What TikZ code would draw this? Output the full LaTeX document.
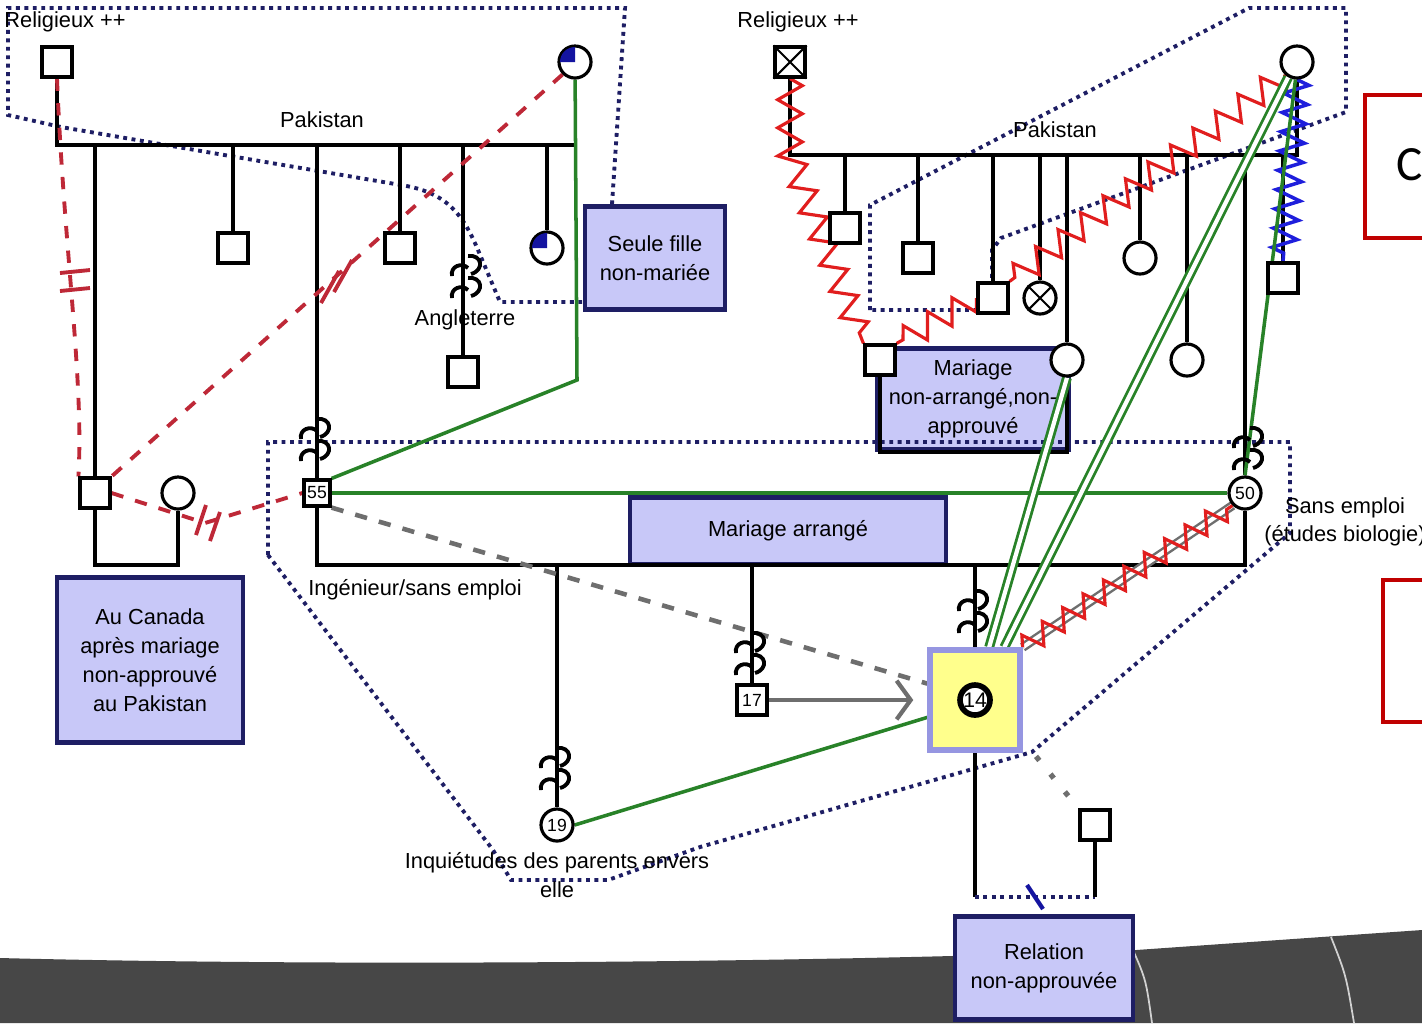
\documentclass[tikz,border=0pt]{standalone}
\usepackage{fontspec}
\setmainfont{Liberation Sans}
\newfontfamily\carlito{Carlito}
\usepackage{xcolor}
\usepackage{tikz}
\usetikzlibrary{calc, shapes, backgrounds, arrows, arrows.meta, positioning, decorations.pathmorphing}

\definecolor{marine}{RGB}{30,30,100}
\definecolor{lavande}{RGB}{200,200,248}
\definecolor{vert}{RGB}{40,130,40}
\definecolor{rouge}{RGB}{225,30,30}
\definecolor{bordeaux}{RGB}{190,40,55}
\definecolor{bleuvif}{RGB}{30,30,220}
\definecolor{bleufonce}{RGB}{20,20,160}
\definecolor{gris}{RGB}{110,110,110}
\definecolor{jaune}{RGB}{255,255,140}
\definecolor{bordind}{RGB}{150,150,225}
\definecolor{bande}{RGB}{71,71,71}
\definecolor{cadre}{RGB}{192,0,0}

\tikzset{immig/.pic={
\draw[line width=1.1pt] (-16,-4) .. controls (-18,-14) and (-6,-18) .. (0,-12) (0,-24) .. controls (14,-26) and (17,-10) .. (3,-6)
 (-16,18) .. controls (-18,8) and (-6,4) .. (0,10) (0,-2) .. controls (14,-4) and (17,12) .. (3,16);
}}

\begin{document}
\begin{tikzpicture}[x=0.01cm, y=-0.01cm,
 homme/.style={draw, fill=white, line width=0.9pt, minimum size=0.3cm, inner sep=0pt, font=\fontsize{5}{5}\selectfont},
 femme/.style={circle, draw, fill=white, line width=0.9pt, minimum size=0.32cm, inner sep=0pt, font=\fontsize{5}{5}\selectfont},
 note/.style={draw=marine, fill=lavande, line width=1.3pt, align=center, font=\fontsize{6.2}{8.2}\selectfont},
 lbl/.style={font=\fontsize{6.2}{8}\selectfont, align=center, inner sep=1pt},
 lien/.style={line width=0.9pt},
 zone/.style={marine, line width=1.1pt, dash pattern=on 1.1pt off 1.3pt},
 coupe/.style={bordeaux, line width=1.1pt, dash pattern=on 3.5pt off 3.5pt},
 proche/.style={vert, line width=1pt},
 fusion/.style={vert, line width=0.8pt, double=white, double distance=1.2pt},
 conflit/.style={draw=rouge, line width=0.9pt, decorate, decoration={zigzag, segment length=8pt, amplitude=3.5pt}}]
\useasboundingbox (0,0) rectangle (1422,1023);

\node[homme] (lpere) at (57,62) {};
\node[femme] (lmere) at (575,62) {};
\node[homme] (canada) at (95,493) {};
\node[femme] (epouse) at (178,493) {};
\node[homme] (lf2) at (233,248) {};
\node[homme, minimum size=0.26cm] (p55) at (317,493) {55};
\node[homme] (lf4) at (400,248) {};
\node[homme] (lf5) at (463,372) {};
\node[femme] (lf6) at (547,248) {};
\fill[bleufonce] (lmere.center) -- ++(-0.15cm,0) arc[start angle=180, end angle=90, radius=0.15cm] -- cycle;
\fill[bleufonce] (lf6.center) -- ++(-0.15cm,0) arc[start angle=180, end angle=90, radius=0.15cm] -- cycle;

\node[homme] (rpere) at (790,62) {};
\draw[line width=0.6pt] (rpere.north west) -- (rpere.south east) (rpere.north east) -- (rpere.south west);
\node[femme] (rmere) at (1297,62) {};
\node[homme] (rf1) at (845,228) {};
\node[homme] (rf2) at (918,258) {};
\node[homme] (rf3) at (993,298) {};
\node[femme] (rf4) at (1040,298) {};
\draw[line width=0.6pt] (rf4.135) -- (rf4.-45) (rf4.45) -- (rf4.-135);
\node[femme] (rf5) at (1067,360) {};
\node[femme] (rf6) at (1140,258) {};
\node[femme] (rf7) at (1187,360) {};
\node[femme] (m50) at (1245,493) {50};
\node[homme] (rf9) at (1283,278) {};
\node[homme] (mari) at (880,360) {};

\node[femme] (f19) at (557,825) {19};
\node[homme] (g17) at (752,700) {17};
\node[draw=bordind, fill=jaune, line width=1.5pt, minimum width=0.9cm, minimum height=1cm] (indexbox) at (975,700) {};
\node[femme, line width=1.6pt, minimum size=0.3cm, font=\fontsize{6}{6}\selectfont] (f14) at (975,700) {14};
\node[homme] (ami) at (1095,825) {};

\pic at (317,443) {immig};
\pic at (468,280) {immig};
\pic at (1250,452) {immig};
\pic at (557,772) {immig};
\pic at (752,657) {immig};
\pic at (975,615) {immig};

\node[lbl] (relig1) at (65,22) {Religieux ++};
\node[lbl] (relig2) at (798,22) {Religieux ++};
\node[lbl] (pak1) at (322,120) {Pakistan};
\node[lbl] (pak2) at (1055,130) {Pakistan};
\node[lbl] (angl) at (465,320) {Angleterre};
\node[lbl] (ingen) at (415,590) {Ingénieur/sans emploi};
\node[lbl] (sansemp) at (1345,522) {Sans emploi\\(études biologie)};
\node[lbl, below=0.06cm of f19] (inquiet) {Inquiétudes des parents envers\\elle};

\begin{scope}[on background layer]
\fill[white] (0,0) rectangle (1422,1023);
\fill[bande] (0,958) .. controls (400,968) and (900,960) .. (1136,950) .. controls (1250,942) and (1350,935) .. (1422,930) -- (1422,1023) -- (0,1023) -- cycle;
\draw[white!75!bande, line width=0.5pt] (1133,950) .. controls (1146,980) .. (1152,1023);
\draw[white!75!bande, line width=0.5pt] (1331,937) .. controls (1346,975) .. (1354,1023);

\node[note, minimum width=1.86cm, minimum height=1.65cm] (bcanada) at (150,660) {Au Canada\\après mariage\\non-approuvé\\au Pakistan};
\node[note, minimum width=1.4cm, minimum height=1.03cm] (bseule) at (655,258) {Seule fille\\non-mariée};
\node[note, minimum width=1.8cm, minimum height=0.98cm] (bnonarr) at (973,399) {Mariage\\non-arrangé,non-\\approuvé};
\node[note, minimum width=3.16cm, minimum height=0.67cm] (barr) at (788,531) {Mariage arrangé};
\node[note, minimum width=1.78cm, minimum height=1.03cm] (brel) at (1044,968) {Relation\\non-approuvée};

\draw[cadre, line width=0.9pt] (1365,95) rectangle (1440,238);
\node[anchor=west, inner sep=0pt, font=\carlito\fontsize{14}{14}\selectfont] (lettre) at (1396,165) {C};
\draw[cadre, line width=0.9pt] (1383,580) rectangle (1440,722);

\draw[zone] (bseule.north) ++(-43,0) -- (625,8) -- (8,8) -- (8,115) -- (61,127) -- (236,157) -- (401,185) .. controls (445,192) and (462,212) .. (478,250) -- (500,302) -- (583,302);
\draw[zone] (870,310) -- (870,205) -- (1249,8) -- (1346,8) -- (1346,112) -- (1297,130) -- (1001,238) -- (992,250) -- (992,310) -- cycle;
\draw[zone] (268,555) -- (268,442) -- (1290,442) -- (1290,533) -- (1032,752) -- (700,847) -- (608,880) -- (511,880) -- (493,850) -- cycle;

\draw[lien] (lpere) -- (57,145) -- (577,145);
\draw[lien] (95,145) -- (canada);
\draw[lien] (233,145) -- (lf2);
\draw[lien] (317,145) -- (p55);
\draw[lien] (400,145) -- (lf4);
\draw[lien] (463,145) -- (lf5);
\draw[lien] (547,145) -- (lf6);
\draw[lien] (canada) -- (95,565) -- (178,565) -- (epouse);
\draw[proche] (lmere) -- (577,380) -- (p55.north east);

\draw[coupe] (lpere.south) .. controls (64,250) and (84,380) .. (canada.north west);
\draw[bordeaux, line width=1.1pt] (60,273) -- (90,270) (60,291) -- (90,288);
\draw[coupe] (lmere.south west) -- (canada.north east);
\draw[bordeaux, line width=1.1pt] (321,303) -- (339,271) (334,292) -- (352,260);
\draw[coupe] (canada.east) -- (205,523) -- (p55.west);
\draw[bordeaux, line width=1.1pt] (196,535) -- (206,505) (210,541) -- (220,512);

\draw[lien] (rpere) -- (790,155) -- (1297,155) -- (rmere);
\draw[lien] (845,155) -- (rf1);
\draw[lien] (918,155) -- (rf2);
\draw[lien] (993,155) -- (rf3);
\draw[lien] (1040,155) -- (rf4);
\draw[lien] (1067,155) -- (rf5);
\draw[lien] (1140,155) -- (rf6);
\draw[lien] (1187,155) -- (rf7);
\draw[lien] (1245,155) -- (m50);
\draw[lien] (1283,155) -- (rf9);
\draw[lien] (mari) -- (880,452) -- (1067,452) -- (rf5);
\draw[conflit] (rpere.south) -- (790,155) -- (mari.north west);
\draw[conflit] (rmere.south west) -- (rf3.north east);
\draw[conflit] (rf3.west) -- (mari.north east);
\draw[bleuvif, line width=1pt, decorate, decoration={zigzag, segment length=5.5pt, amplitude=3.5pt}] (rmere.south) -- (rf9.north);

\draw[lien] (p55) -- (317,565) -- (1245,565) -- (m50);
\draw[lien] (557,565) -- (f19);
\draw[lien] (752,565) -- (g17);
\draw[lien] (975,565) -- (indexbox);
\draw[proche] (p55.east) -- (m50.west);
\draw[proche] (indexbox.200) -- (f19.east);
\draw[proche] (rmere.265) -- (m50.north);
\draw[fusion] (indexbox.75) -- (rf5.south);
\draw[fusion] (indexbox.61) -- (rmere.240);
\draw[gris, line width=0.7pt, double=white, double distance=1.2pt] (indexbox.north east) -- (m50.south west);
\draw[rouge, line width=0.9pt, decorate, decoration={zigzag, segment length=7pt, amplitude=3pt}] (indexbox.north east) -- (m50.south west);
\draw[gris, line width=1.3pt, dash pattern=on 3.5pt off 3.5pt] (p55.south east) -- (indexbox.161);
\draw[gris, line width=1.2pt, shorten >=4pt, -{Straight Barb[length=4pt,width=11pt]}] (g17) -- (indexbox);

\draw[lien] (indexbox) -- (975,897);
\draw[zone] (975,897) -- (1095,897);
\draw[lien] (1095,897) -- (ami);
\draw[bleufonce, line width=1.2pt] (1027,885) -- (1043,909);
\draw[gris, line width=1.5pt, dash pattern=on 1.5pt off 5pt, shorten <=6pt] (indexbox.-40) -- (ami.north west);
\end{scope}
\end{tikzpicture}
\end{document}
